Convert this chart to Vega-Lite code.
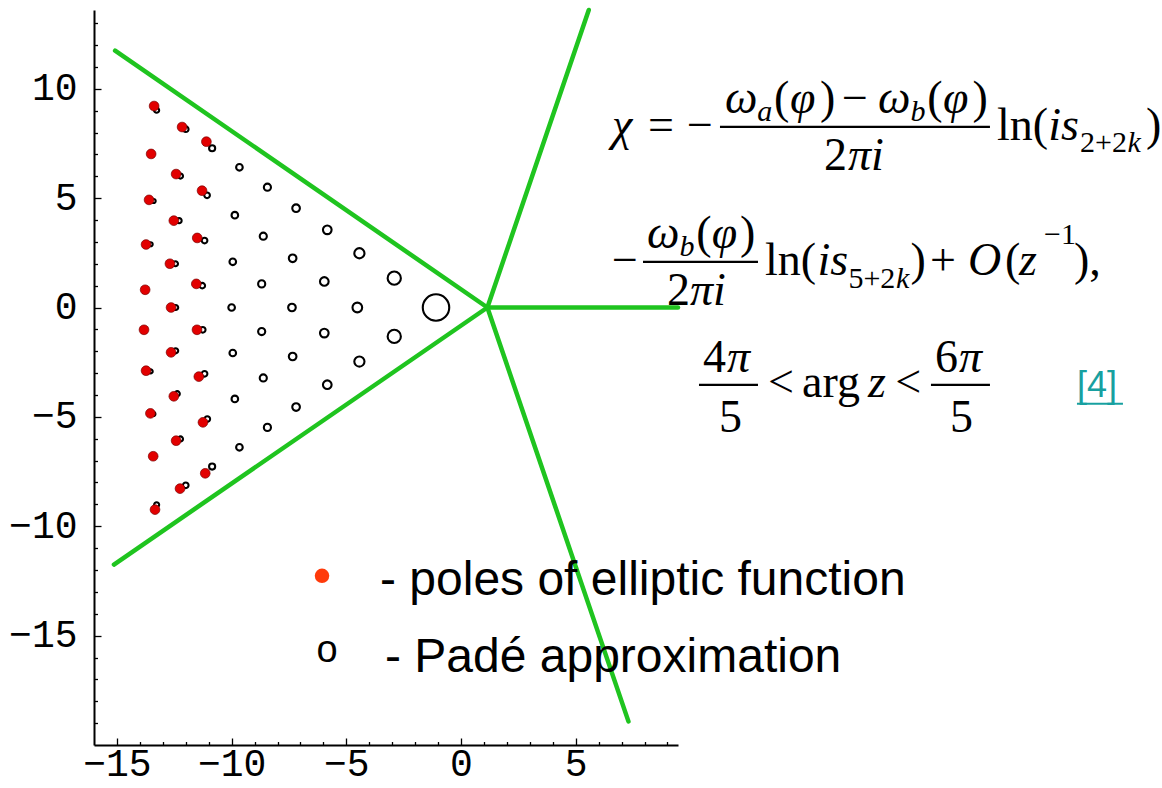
{
  "$schema": "https://vega.github.io/schema/vega-lite/v6.json",
  "width": 584,
  "height": 735,
  "autosize": "none",
  "padding": {"left": 94, "top": 10, "right": 484, "bottom": 43},
  "background": "white",
  "config": {"view": {"stroke": null}},
  "datasets": {
    "rays": [
      {"x": 1.15, "y": 0, "x2": -15.08, "y2": 11.74},
      {"x": 1.15, "y": 0, "x2": -15.13, "y2": -11.75},
      {"x": 1.15, "y": 0, "x2": 5.57, "y2": 13.6},
      {"x": 1.15, "y": 0, "x2": 9.46, "y2": 0},
      {"x": 1.15, "y": 0, "x2": 7.3, "y2": -18.92}
    ],
    "pade": [
      {"x": -13.27, "y": 9.02, "w": 5},
      {"x": -12.0, "y": 8.15, "w": 5.5},
      {"x": -10.85, "y": 7.28, "w": 6},
      {"x": -9.66, "y": 6.41, "w": 6.5},
      {"x": -8.44, "y": 5.5, "w": 7},
      {"x": -7.19, "y": 4.54, "w": 7.5},
      {"x": -5.83, "y": 3.55, "w": 8.5},
      {"x": -4.43, "y": 2.48, "w": 10},
      {"x": -2.91, "y": 1.34, "w": 13},
      {"x": -1.09, "y": 0.0, "w": 26},
      {"x": -12.23, "y": 6.01, "w": 5},
      {"x": -11.07, "y": 5.13, "w": 5.5},
      {"x": -9.86, "y": 4.22, "w": 6.5},
      {"x": -8.62, "y": 3.26, "w": 7},
      {"x": -7.34, "y": 2.25, "w": 7.5},
      {"x": -5.96, "y": 1.19, "w": 8.5},
      {"x": -4.52, "y": 0.0, "w": 9.5},
      {"x": -13.4, "y": 4.87, "w": 4},
      {"x": -12.29, "y": 3.97, "w": 5},
      {"x": -11.18, "y": 3.06, "w": 5.5},
      {"x": -9.95, "y": 2.09, "w": 6.5},
      {"x": -8.69, "y": 1.08, "w": 7},
      {"x": -7.37, "y": 0.0, "w": 7.5},
      {"x": -13.53, "y": 2.89, "w": 4},
      {"x": -12.45, "y": 2.0, "w": 5},
      {"x": -11.28, "y": 1.0, "w": 5.5},
      {"x": -10.0, "y": 0.0, "w": 6.5},
      {"x": -12.44, "y": 0.0, "w": 5},
      {"x": -11.26, "y": -1.02, "w": 5.5},
      {"x": -8.69, "y": -1.1, "w": 7},
      {"x": -5.96, "y": -1.17, "w": 8.5},
      {"x": -2.91, "y": -1.32, "w": 13},
      {"x": -7.34, "y": -2.24, "w": 7.5},
      {"x": -4.43, "y": -2.47, "w": 10},
      {"x": -5.83, "y": -3.53, "w": 8.5},
      {"x": -7.19, "y": -4.55, "w": 7.5},
      {"x": -12.44, "y": -1.98, "w": 5},
      {"x": -9.95, "y": -2.08, "w": 6.5},
      {"x": -13.53, "y": -2.92, "w": 4},
      {"x": -11.18, "y": -3.03, "w": 5.5},
      {"x": -8.62, "y": -3.22, "w": 7},
      {"x": -12.37, "y": -3.94, "w": 5},
      {"x": -9.86, "y": -4.18, "w": 6.5},
      {"x": -13.41, "y": -4.87, "w": 4},
      {"x": -11.06, "y": -5.1, "w": 5.5},
      {"x": -8.44, "y": -5.48, "w": 7},
      {"x": -12.23, "y": -6.01, "w": 5},
      {"x": -9.66, "y": -6.39, "w": 6.5},
      {"x": -10.85, "y": -7.27, "w": 6},
      {"x": -12.0, "y": -8.13, "w": 5.5},
      {"x": -13.27, "y": -9.02, "w": 5}
    ],
    "poles": [
      {"x": -13.38, "y": 9.21},
      {"x": -12.16, "y": 8.25},
      {"x": -11.1, "y": 7.58},
      {"x": -13.51, "y": 7.02},
      {"x": -12.42, "y": 6.1},
      {"x": -11.29, "y": 5.34},
      {"x": -13.6, "y": 4.92},
      {"x": -12.52, "y": 3.97},
      {"x": -11.5, "y": 3.18},
      {"x": -13.73, "y": 2.88},
      {"x": -12.69, "y": 2.0},
      {"x": -11.54, "y": 1.08},
      {"x": -13.77, "y": 0.81},
      {"x": -12.64, "y": 0.0},
      {"x": -13.82, "y": -1.02},
      {"x": -11.51, "y": -1.02},
      {"x": -12.64, "y": -2.05},
      {"x": -13.73, "y": -2.89},
      {"x": -11.43, "y": -3.16},
      {"x": -12.52, "y": -4.06},
      {"x": -13.54, "y": -4.84},
      {"x": -11.25, "y": -5.25},
      {"x": -12.42, "y": -6.09},
      {"x": -13.42, "y": -6.8},
      {"x": -11.15, "y": -7.58},
      {"x": -12.25, "y": -8.28},
      {"x": -13.34, "y": -9.24}
    ],
    "legdot": [{"x": -6.059, "y": -12.265}],
    "bars": [
      {"x": 11.29, "x2": 23.06, "y": 8.261, "k": "frac"},
      {"x": 7.934, "x2": 12.947, "y": 2.089, "k": "frac"},
      {"x": 10.375, "x2": 12.947, "y": -3.534, "k": "frac"},
      {"x": 20.488, "x2": 23.06, "y": -3.534, "k": "frac"},
      {"x": 26.853, "x2": 28.858, "y": -4.40, "k": "ul"}
    ],
    "texts": [
      {"t": "χ", "x": 6.582, "y": 7.666, "k": "it"},
      {"t": "=", "x": 8.152, "y": 7.666, "k": "rm"},
      {"t": "−", "x": 9.852, "y": 7.666, "k": "rm"},
      {"t": "ω", "x": 11.508, "y": 8.901, "k": "it"},
      {"t": "a", "x": 12.92, "y": 8.535, "k": "sb"},
      {"t": "(", "x": 13.65, "y": 8.901, "k": "rm"},
      {"t": "φ", "x": 14.34, "y": 8.901, "k": "it"},
      {"t": ")", "x": 15.65, "y": 8.901, "k": "rm"},
      {"t": "−", "x": 16.609, "y": 8.901, "k": "rm"},
      {"t": "ω", "x": 18.178, "y": 8.901, "k": "it"},
      {"t": "b", "x": 19.6, "y": 8.535, "k": "sb"},
      {"t": "(", "x": 20.33, "y": 8.901, "k": "rm"},
      {"t": "φ", "x": 21.01, "y": 8.901, "k": "it"},
      {"t": ")", "x": 22.3, "y": 8.901, "k": "rm"},
      {"t": "2", "x": 15.824, "y": 6.295, "k": "rm"},
      {"t": "πi", "x": 16.87, "y": 6.295, "k": "it"},
      {"t": "ln(", "x": 23.365, "y": 7.666, "k": "rm"},
      {"t": "is", "x": 25.6, "y": 7.666, "k": "it"},
      {"t": "2+2", "x": 26.99, "y": 7.118, "k": "sr"},
      {"t": "k", "x": 29.06, "y": 7.118, "k": "sb"},
      {"t": ")", "x": 29.86, "y": 7.666, "k": "rm"},
      {"t": "−", "x": 6.582, "y": 1.495, "k": "rm"},
      {"t": "ω", "x": 8.108, "y": 2.729, "k": "it"},
      {"t": "b", "x": 9.53, "y": 2.363, "k": "sb"},
      {"t": "(", "x": 10.26, "y": 2.729, "k": "rm"},
      {"t": "φ", "x": 10.93, "y": 2.729, "k": "it"},
      {"t": ")", "x": 12.16, "y": 2.729, "k": "rm"},
      {"t": "2", "x": 8.98, "y": 0.123, "k": "rm"},
      {"t": "πi", "x": 9.983, "y": 0.123, "k": "it"},
      {"t": "ln(", "x": 13.252, "y": 1.495, "k": "rm"},
      {"t": "is", "x": 15.54, "y": 1.495, "k": "it"},
      {"t": "5+2", "x": 16.89, "y": 0.901, "k": "sr"},
      {"t": "k", "x": 18.96, "y": 0.901, "k": "sb"},
      {"t": ")", "x": 19.6, "y": 1.495, "k": "rm"},
      {"t": "+", "x": 20.45, "y": 1.495, "k": "rm"},
      {"t": "O", "x": 22.101, "y": 1.495, "k": "it"},
      {"t": "(", "x": 23.714, "y": 1.495, "k": "rm"},
      {"t": "z", "x": 24.324, "y": 1.495, "k": "it"},
      {"t": "−1", "x": 25.42, "y": 2.9, "k": "sr"},
      {"t": "),", "x": 26.722, "y": 1.495, "k": "rm"},
      {"t": "4", "x": 10.549, "y": -2.939, "k": "rm"},
      {"t": "π", "x": 11.595, "y": -2.939, "k": "it"},
      {"t": "5", "x": 11.247, "y": -5.682, "k": "rm"},
      {"t": "<", "x": 13.383, "y": -4.082, "k": "rm"},
      {"t": "arg", "x": 14.865, "y": -4.082, "k": "rm"},
      {"t": "z", "x": 17.74, "y": -4.082, "k": "it"},
      {"t": "<", "x": 18.93, "y": -4.082, "k": "rm"},
      {"t": "6", "x": 20.663, "y": -2.939, "k": "rm"},
      {"t": "π", "x": 21.709, "y": -2.939, "k": "it"},
      {"t": "5", "x": 21.316, "y": -5.682, "k": "rm"},
      {"t": "[4]", "x": 26.853, "y": -4.082, "k": "link"},
      {"t": "- poles of elliptic function", "x": -3.531, "y": -13.134, "k": "leg"},
      {"t": "- Padé approximation", "x": -3.313, "y": -16.654, "k": "leg"},
      {"t": "o", "x": -5.841, "y": -16.197, "k": "lego"}
    ]
  },
  "encoding": {
    "x": {
      "field": "x", "type": "quantitative",
      "scale": {"domain": [-16, 9.46], "nice": false, "zero": false},
      "axis": {
        "title": null, "grid": false,
        "values": [-15,-14,-13,-12,-11,-10,-9,-8,-7,-6,-5,-4,-3,-2,-1,0,1,2,3,4,5,6,7,8,9],
        "labelExpr": "datum.value % 5 === 0 ? datum.label : ''",
        "tickSize": {"condition": {"test": "datum.value % 5 === 0", "value": -7}, "value": -3.5},
        "tickColor": "#000", "tickWidth": 1.3,
        "domainColor": "#000", "domainWidth": 2,
        "labelFont": "Liberation Mono", "labelFontSize": 38, "labelColor": "#000",
        "labelPadding": 7, "labelOverlap": false, "labelFlush": false, "labelBound": false
      }
    },
    "y": {
      "field": "y", "type": "quantitative",
      "scale": {"domain": [-20, 13.6], "nice": false, "zero": false},
      "axis": {
        "title": null, "grid": false,
        "values": [-19,-18,-17,-16,-15,-14,-13,-12,-11,-10,-9,-8,-7,-6,-5,-4,-3,-2,-1,0,1,2,3,4,5,6,7,8,9,10,11,12,13],
        "labelExpr": "datum.value % 5 === 0 ? datum.label : ''",
        "tickSize": {"condition": {"test": "datum.value % 5 === 0", "value": -7}, "value": -3.5},
        "tickColor": "#000", "tickWidth": 1.3,
        "domainColor": "#000", "domainWidth": 2,
        "labelFont": "Liberation Mono", "labelFontSize": 38, "labelColor": "#000",
        "labelPadding": 24, "labelOverlap": false, "labelFlush": false, "labelBound": false
      }
    }
  },
  "layer": [
    {
      "data": {"name": "rays"},
      "mark": {"type": "rule", "color": "#1fc41f", "strokeWidth": 4.5, "strokeCap": "round"},
      "encoding": {"x2": {"field": "x2"}, "y2": {"field": "y2"}}
    },
    {
      "data": {"name": "pade"},
      "mark": {"type": "point", "shape": "circle", "filled": false, "stroke": "#000", "strokeWidth": 2.1, "opacity": 1},
      "encoding": {
        "size": {"field": "w", "type": "quantitative", "scale": {"type": "pow", "exponent": 2, "domain": [0, 26], "range": [0, 700]}, "legend": null}
      }
    },
    {
      "data": {"name": "poles"},
      "mark": {"type": "circle", "size": 95, "color": "#e20000", "stroke": "#7a0000", "strokeWidth": 0.7, "opacity": 1}
    },
    {
      "data": {"name": "legdot"},
      "mark": {"type": "circle", "size": 210, "color": "#ff3a0a", "opacity": 1}
    },
    {
      "data": {"name": "bars"},
      "transform": [{"filter": "datum.k === 'frac'"}],
      "mark": {"type": "rule", "color": "#000", "strokeWidth": 2.2},
      "encoding": {"x2": {"field": "x2"}}
    },
    {
      "data": {"name": "bars"},
      "transform": [{"filter": "datum.k === 'ul'"}],
      "mark": {"type": "rule", "color": "#17a0a0", "strokeWidth": 2},
      "encoding": {"x2": {"field": "x2"}}
    },
    {
      "data": {"name": "texts"},
      "transform": [{"filter": "datum.k === 'rm'"}],
      "mark": {"type": "text", "align": "left", "baseline": "alphabetic", "font": "Liberation Serif", "fontSize": 46, "color": "#000"},
      "encoding": {"text": {"field": "t"}}
    },
    {
      "data": {"name": "texts"},
      "transform": [{"filter": "datum.k === 'it'"}],
      "mark": {"type": "text", "align": "left", "baseline": "alphabetic", "font": "Liberation Serif", "fontSize": 46, "fontStyle": "italic", "color": "#000"},
      "encoding": {"text": {"field": "t"}}
    },
    {
      "data": {"name": "texts"},
      "transform": [{"filter": "datum.k === 'sb'"}],
      "mark": {"type": "text", "align": "left", "baseline": "alphabetic", "font": "Liberation Serif", "fontSize": 30, "fontStyle": "italic", "color": "#000"},
      "encoding": {"text": {"field": "t"}}
    },
    {
      "data": {"name": "texts"},
      "transform": [{"filter": "datum.k === 'sr'"}],
      "mark": {"type": "text", "align": "left", "baseline": "alphabetic", "font": "Liberation Serif", "fontSize": 30, "color": "#000"},
      "encoding": {"text": {"field": "t"}}
    },
    {
      "data": {"name": "texts"},
      "transform": [{"filter": "datum.k === 'link'"}],
      "mark": {"type": "text", "align": "left", "baseline": "alphabetic", "font": "Liberation Sans", "fontSize": 36, "color": "#17a0a0"},
      "encoding": {"text": {"field": "t"}}
    },
    {
      "data": {"name": "texts"},
      "transform": [{"filter": "datum.k === 'leg'"}],
      "mark": {"type": "text", "align": "left", "baseline": "alphabetic", "font": "Liberation Sans", "fontSize": 48, "color": "#000"},
      "encoding": {"text": {"field": "t"}}
    },
    {
      "data": {"name": "texts"},
      "transform": [{"filter": "datum.k === 'lego'"}],
      "mark": {"type": "text", "align": "center", "baseline": "alphabetic", "font": "Liberation Sans", "fontSize": 38, "color": "#000"},
      "encoding": {"text": {"field": "t"}}
    }
  ]
}
